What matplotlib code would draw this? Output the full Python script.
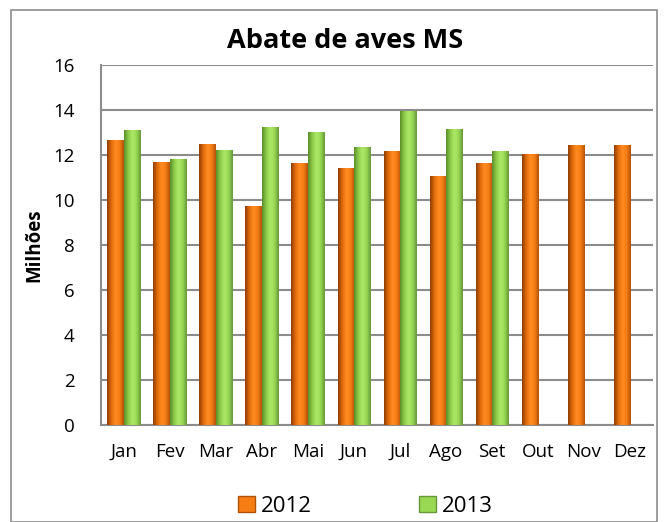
import matplotlib
matplotlib.use("Agg")
import matplotlib.pyplot as plt
import numpy as np
from matplotlib.colors import LinearSegmentedColormap
from matplotlib.patches import Rectangle

plt.rcParams['font.family'] = ['Open Sans', 'DejaVu Sans']

# Dados (milhões de aves abatidas)
meses = ['Jan', 'Fev', 'Mar', 'Abr', 'Mai', 'Jun', 'Jul', 'Ago', 'Set', 'Out', 'Nov', 'Dez']
abate_2012 = [12.67, 11.70, 12.50, 9.75, 11.63, 11.40, 12.18, 11.08, 11.66, 12.06, 12.43, 12.43]
abate_2013 = [13.10, 11.80, 12.20, 13.24, 13.00, 12.37, 13.97, 13.14, 12.18, np.nan, np.nan, np.nan]
anos = ['2012', '2013']

cor_2012 = '#F57D14'
cor_2013 = '#98D852'
cmap_2012 = LinearSegmentedColormap.from_list('o', ['#8E3D05', '#E06A0A', '#FF8C22', '#F57D14', '#B25207'])
cmap_2013 = LinearSegmentedColormap.from_list('g', ['#5A8C28', '#8CCB48', '#AEE86A', '#98D852', '#67973A'])

fig = plt.figure(figsize=(6.67, 5.22), dpi=100)
ax = fig.add_axes([0.151, 0.186, 0.828, 0.6895])

x = np.arange(len(meses))
largura = 0.355
grad = np.linspace(0, 1, 64).reshape(1, -1)

for valores, desloc, cor, cmap in [(abate_2012, -largura / 2, cor_2012, cmap_2012),
                                   (abate_2013, largura / 2, cor_2013, cmap_2013)]:
    barras = ax.bar(x + desloc, valores, width=largura, color=cor, zorder=3)
    for b in barras:
        h = b.get_height()
        if np.isnan(h):
            continue
        x0 = b.get_x()
        im = ax.imshow(grad, cmap=cmap, aspect='auto', zorder=4,
                       extent=(x0, x0 + largura, 0, h), interpolation='bicubic')
        im.set_clip_path(b)

ax.set_xlim(-0.5, len(meses) - 0.5)
ax.set_ylim(0, 16)
ax.set_yticks(np.arange(0, 17, 2))
ax.set_xticks(x)
ax.set_xticklabels(meses)
ax.grid(axis='y', color='#8C8C8C', linewidth=1.5, zorder=0)
ax.set_axisbelow(True)
for lado in ['top', 'right']:
    ax.spines[lado].set_visible(False)
ax.spines['left'].set_color('#8C8C8C')
ax.spines['bottom'].set_color('#8C8C8C')
ax.spines['left'].set_linewidth(1.5)
ax.spines['bottom'].set_linewidth(1.5)
ax.tick_params(axis='y', length=0, labelsize=13.5, pad=19)
ax.tick_params(axis='x', length=0, labelsize=13.5, pad=13)
ax.set_ylabel('Milhões', fontsize=13.5, fontweight='bold', labelpad=6)

fig.text(0.517, 0.922, 'Abate de aves MS', ha='center', va='center', fontsize=19.5, fontweight='bold')

# Legenda
handles = [Rectangle((0, 0), 1, 1, facecolor=cor_2012, edgecolor='#B25207'),
           Rectangle((0, 0), 1, 1, facecolor=cor_2013, edgecolor='#67973A')]
fig.legend(handles, anos, loc='center', bbox_to_anchor=(0.548, 0.03), ncol=2, frameon=False,
           fontsize=16, handlelength=0.75, handleheight=0.75, handletextpad=0.3, columnspacing=4.8)

# Borda do gráfico
fig.patches.append(Rectangle((0.0165, 0.0), 0.968, 0.981, transform=fig.transFigure,
                             fill=False, edgecolor='#8C8C8C', linewidth=1.2))

plt.savefig('out.png', dpi=100)
